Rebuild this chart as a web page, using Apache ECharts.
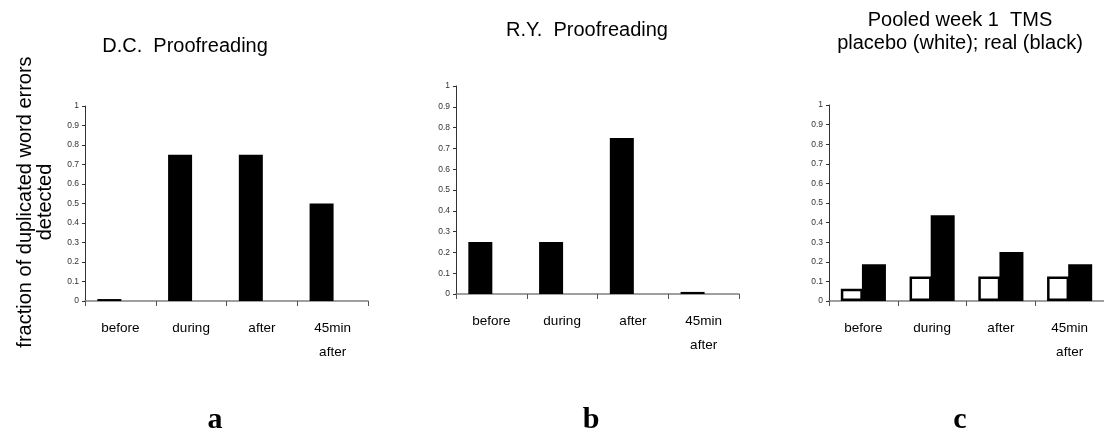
<!DOCTYPE html>
<html>
<head>
<meta charset="utf-8">
<script src="https://cdn.jsdelivr.net/npm/echarts@6/dist/echarts.min.js"></script>
<style>html,body{margin:0;padding:0;background:#fff}#c{width:1104px;height:434px}</style>
</head>
<body>
<div id="c"></div>
<script>
var categories = ['before', 'during', 'after', '45min\nafter'];
var dcReal = [0.01, 0.75, 0.75, 0.5];
var ryReal = [0.25, 0.25, 0.75, 0.01];
var pooledPlacebo = [0.0625, 0.125, 0.125, 0.125];
var pooledReal = [0.1875, 0.4375, 0.25, 0.1875];
var emptySeries = ['-', '-', '-', '-'];
var yTicks = { min: 0, max: 1, interval: 0.1 };

var chart = echarts.init(document.getElementById('c'), null, { renderer: 'canvas' });
var FONT = 'Liberation Sans, Arial, sans-serif';
var grids = [
  { left: 85, top: 106, width: 283, height: 195 },
  { left: 456, top: 86, width: 283, height: 208 },
  { left: 829, top: 105, width: 286, height: 196 }
];
function xAx(i) {
  return {
    type: 'category', gridIndex: i, data: categories,
    axisLine: { lineStyle: { color: '#808080', width: 1.5 } },
    axisTick: { show: true, interval: 0, alignWithLabel: false, length: 5, lineStyle: { color: '#555', width: 1 } },
    axisLabel: { color: '#000', fontFamily: FONT, fontSize: 13.5, lineHeight: 24, margin: 15, interval: 0 }
  };
}
function yAx(i) {
  return {
    type: 'value', gridIndex: i, min: yTicks.min, max: yTicks.max, interval: yTicks.interval,
    splitLine: { show: false },
    axisLine: { show: true, lineStyle: { color: '#333', width: 1 } },
    axisTick: { show: true, length: 3, lineStyle: { color: '#333' } },
    axisLabel: { color: '#333', fontFamily: FONT, fontSize: 8.5, margin: 6 }
  };
}
var blackStyle = { color: '#000' };
var whiteStyle = { color: '#fff', borderColor: '#000', borderWidth: 2.5 };
chart.setOption({
  animation: false,
  grid: grids,
  xAxis: [xAx(0), xAx(1), xAx(2)],
  yAxis: [yAx(0), yAx(1), yAx(2)],
  series: [
    { type: 'bar', xAxisIndex: 0, yAxisIndex: 0, data: dcReal, barWidth: 24, barGap: '-8%', itemStyle: blackStyle },
    { type: 'bar', xAxisIndex: 0, yAxisIndex: 0, data: emptySeries, barWidth: 24, itemStyle: blackStyle },
    { type: 'bar', xAxisIndex: 1, yAxisIndex: 1, data: ryReal, barWidth: 24, barGap: '-8%', itemStyle: blackStyle },
    { type: 'bar', xAxisIndex: 1, yAxisIndex: 1, data: emptySeries, barWidth: 24, itemStyle: blackStyle },
    { type: 'bar', xAxisIndex: 2, yAxisIndex: 2, data: pooledPlacebo, barWidth: 22, barGap: '-4%', itemStyle: whiteStyle },
    { type: 'bar', xAxisIndex: 2, yAxisIndex: 2, data: pooledReal, barWidth: 24, itemStyle: blackStyle }
  ],
  graphic: [
    { type: 'text', x: 185, y: 46, style: { text: 'D.C.  Proofreading', font: '20px ' + FONT, fill: '#000', textAlign: 'center', textVerticalAlign: 'middle' } },
    { type: 'text', x: 587, y: 30, style: { text: 'R.Y.  Proofreading', font: '20px ' + FONT, fill: '#000', textAlign: 'center', textVerticalAlign: 'middle' } },
    { type: 'text', x: 960, y: 32, style: { text: 'Pooled week 1  TMS\nplacebo (white); real (black)', font: '20px ' + FONT, lineHeight: 23, fill: '#000', textAlign: 'center', textVerticalAlign: 'middle' } },
    { type: 'text', x: 35, y: 202, rotation: Math.PI / 2, style: { text: 'fraction of duplicated word errors\ndetected', font: '20px ' + FONT, lineHeight: 20, fill: '#000', textAlign: 'center', textVerticalAlign: 'middle' } },
    { type: 'text', x: 215, y: 420, style: { text: 'a', font: 'bold 30px Liberation Serif, Times New Roman, serif', fill: '#000', textAlign: 'center', textVerticalAlign: 'middle' } },
    { type: 'text', x: 591, y: 420, style: { text: 'b', font: 'bold 30px Liberation Serif, Times New Roman, serif', fill: '#000', textAlign: 'center', textVerticalAlign: 'middle' } },
    { type: 'text', x: 960, y: 420, style: { text: 'c', font: 'bold 30px Liberation Serif, Times New Roman, serif', fill: '#000', textAlign: 'center', textVerticalAlign: 'middle' } }
  ]
});
</script>
</body>
</html>
